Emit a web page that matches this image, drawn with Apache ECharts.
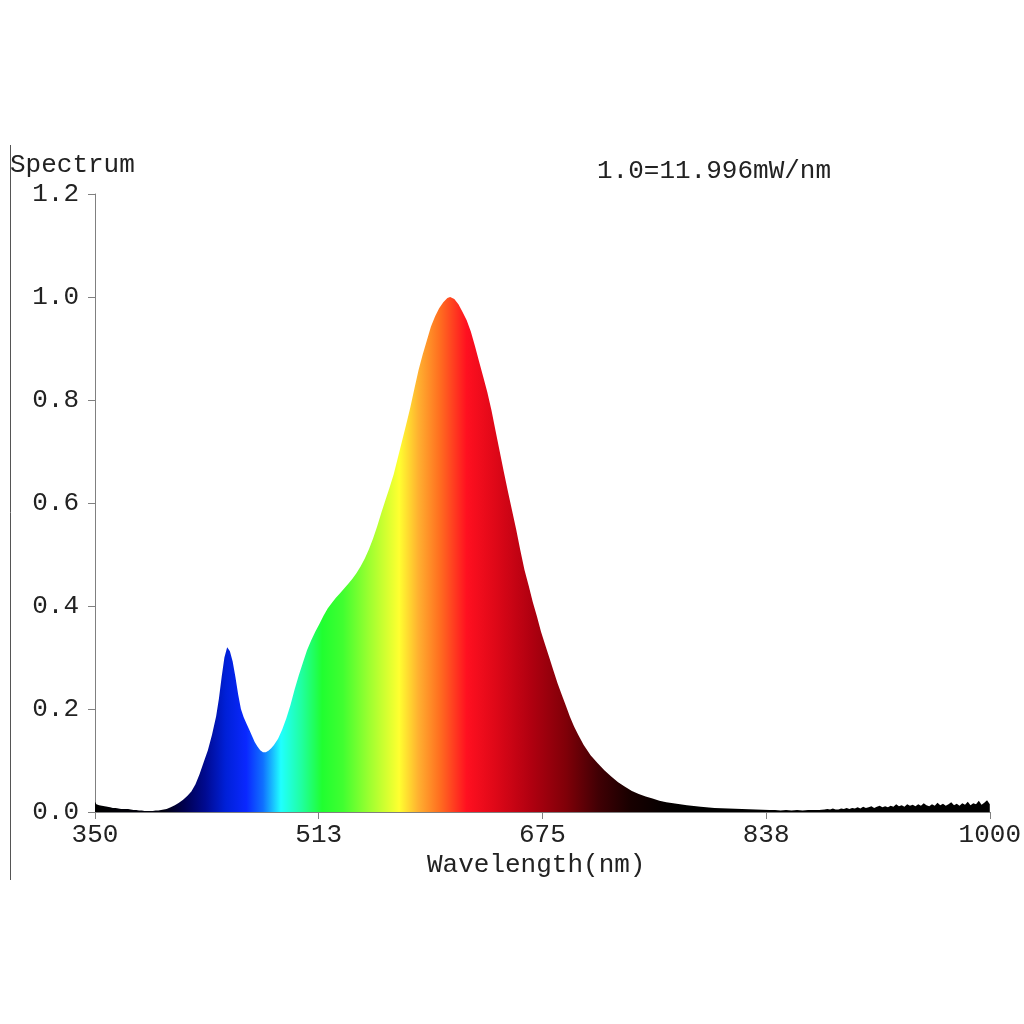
<!DOCTYPE html>
<html>
<head>
<meta charset="utf-8">
<script src="https://cdn.jsdelivr.net/npm/echarts@6/dist/echarts.min.js"></script>
<style>html,body{margin:0;padding:0;background:#fff}#c{width:1024px;height:1024px}</style>
</head>
<body>
<div id="c"></div>
<script>
// Wavelength (nm)
var wavelengths = [
350,351,352,353,354,355,356,357,358,359,360,361,362,363,364,365,366,367,368,369,370,372,374,376,378,380,382,384,386,388,390,392,394,396,398,400,
402,405,408,411,414,417,420,423,426,429,432,435,438,440,442,444,446,448,450,452,454,456,458,460,462,464,466,468,470,472,474,476,478,480,
483,486,489,492,495,498,501,504,507,510,513,516,519,522,525,528,531,534,537,540,543,546,549,552,555,558,561,564,567,570,573,576,579,582,585,588,591,594,597,600,603,606,608,
611,614,617,620,623,626,629,632,635,638,641,644,647,650,653,656,659,662,665,668,671,674,677,680,683,686,689,692,695,698,701,
705,710,715,720,725,730,735,740,745,750,755,760,765,770,775,780,790,800,810,820,830,
840,844,848,852,856,860,864,868,872,876,
880,882,884,886,888,890,892,894,896,898,900,902,904,906,908,910,912,914,916,918,920,922,924,926,928,930,932,934,936,938,940,
942,944,946,948,950,952,954,956,958,960,962,964,966,968,970,972,974,976,978,980,982,984,986,988,990,992,994,996,998,1000
];
// Relative spectrum (1.0 = 11.996 mW/nm)
var spectrum = [
0.020,0.015,0.018,0.013,0.016,0.012,0.015,0.011,0.013,0.010,0.012,0.009,0.011,0.008,0.010,0.008,0.009,0.007,0.008,0.006,0.007,0.006,0.006,0.005,0.004,0.004,0.003,0.003,0.002,0.002,0.002,0.002,0.003,0.003,0.004,0.005,
0.006,0.009,0.013,0.018,0.024,0.031,0.040,0.054,0.074,0.097,0.120,0.150,0.186,0.220,0.262,0.300,0.320,0.312,0.292,0.262,0.228,0.200,0.184,0.172,0.160,0.148,0.136,0.127,0.120,0.116,0.116,0.119,0.124,0.130,
0.142,0.160,0.182,0.208,0.238,0.265,0.290,0.314,0.333,0.350,0.365,0.381,0.395,0.406,0.416,0.425,0.434,0.443,0.453,0.464,0.477,0.492,0.510,0.531,0.555,0.581,0.606,0.630,0.656,0.688,0.720,0.752,0.785,0.822,0.858,0.888,0.915,0.942,0.962,0.978,0.990,0.998,1.000,
0.996,0.986,0.971,0.955,0.933,0.905,0.875,0.845,0.815,0.780,0.740,0.700,0.660,0.622,0.585,0.548,0.508,0.470,0.440,0.408,0.380,0.350,0.325,0.300,0.275,0.250,0.228,0.207,0.185,0.166,0.150,
0.130,0.110,0.095,0.081,0.069,0.058,0.049,0.041,0.035,0.030,0.026,0.022,0.019,0.017,0.015,0.013,0.010,0.008,0.007,0.006,0.005,
0.004,0.004,0.003,0.004,0.003,0.004,0.003,0.004,0.004,0.004,
0.005,0.006,0.005,0.007,0.005,0.005,0.007,0.006,0.008,0.006,0.008,0.007,0.009,0.007,0.010,0.008,0.009,0.011,0.008,0.010,0.012,0.009,0.011,0.009,0.012,0.010,0.015,0.011,0.013,0.010,0.015,
0.012,0.014,0.011,0.015,0.012,0.017,0.013,0.011,0.015,0.012,0.018,0.013,0.016,0.012,0.015,0.019,0.013,0.016,0.012,0.017,0.014,0.020,0.013,0.017,0.015,0.022,0.014,0.018,0.023,0.015
];
var xTickInterval = 162.5;
var yTicks = ['0.0','0.2','0.4','0.6','0.8','1.0','1.2'];
// Spectral fill colours by wavelength
var stopWavelengths = [350,400,415,430,445,460,472,485,500,515,530,550,571,585,600,620,640,667,692,716,739,764,780,1000];
var stopColors = ['#000000','#000010','#000050','#000a90','#0020d8','#0a28ff','#1070ff','#20ffff','#20ffa0','#20ff30','#40ff30','#a0ff30','#ffff30','#ffb030','#ff7020','#ff1020','#e00818','#b00010','#800008','#400004','#180000','#050000','#000000','#000000'];

var xMin = 350, xMax = 1000;
var colorStops = stopWavelengths.map(function (w, i) {
  return { offset: (w - xMin) / (xMax - xMin), color: stopColors[i] };
});
var data = wavelengths.map(function (w, i) { return [w, spectrum[i]]; });
var font = 'Liberation Mono';
var chart = echarts.init(document.getElementById('c'));
chart.setOption({
  animation: false,
  backgroundColor: '#ffffff',
  grid: { left: 95, right: 31, top: 194, bottom: 212 },
  xAxis: {
    type: 'value', min: xMin, max: xMax, interval: xTickInterval,
    axisLine: { show: true, lineStyle: { color: '#808080', width: 1 } },
    axisTick: { show: true, length: 7, lineStyle: { color: '#808080' } },
    splitLine: { show: false },
    axisLabel: { fontFamily: font, fontSize: 26, color: '#222', margin: 10,
      formatter: function (v) { return String(Math.round(v)); } }
  },
  yAxis: {
    type: 'value', min: 0, max: 1.2, interval: 0.2,
    axisLine: { show: true, lineStyle: { color: '#808080', width: 1 } },
    axisTick: { show: true, length: 7, lineStyle: { color: '#808080' } },
    splitLine: { show: false },
    axisLabel: { fontFamily: font, fontSize: 26, color: '#222', margin: 16,
      formatter: function (v) { return yTicks[Math.round(v / 0.2)]; } }
  },
  series: [{
    type: 'line', data: data, symbol: 'none', smooth: false, sampling: null,
    lineStyle: { width: 0.6, color: '#000000', opacity: 0 },
    areaStyle: { opacity: 1, color: { type: 'linear', x: 0, y: 0, x2: 1, y2: 0, colorStops: colorStops } }
  }],
  graphic: [
    { type: 'line', shape: { x1: 10.5, y1: 145, x2: 10.5, y2: 880 }, style: { stroke: '#555', lineWidth: 1 } },
    { type: 'text', x: 10, y: 165, style: { text: 'Spectrum', font: '26px "Liberation Mono"', fill: '#222', textVerticalAlign: 'middle', verticalAlign: 'middle' } },
    { type: 'text', x: 597, y: 171, style: { text: '1.0=11.996mW/nm', font: '26px "Liberation Mono"', fill: '#222', textVerticalAlign: 'middle', verticalAlign: 'middle' } },
    { type: 'text', x: 427, y: 865, style: { text: 'Wavelength(nm)', font: '26px "Liberation Mono"', fill: '#222', textVerticalAlign: 'middle', verticalAlign: 'middle' } }
  ]
});
</script>
</body>
</html>
